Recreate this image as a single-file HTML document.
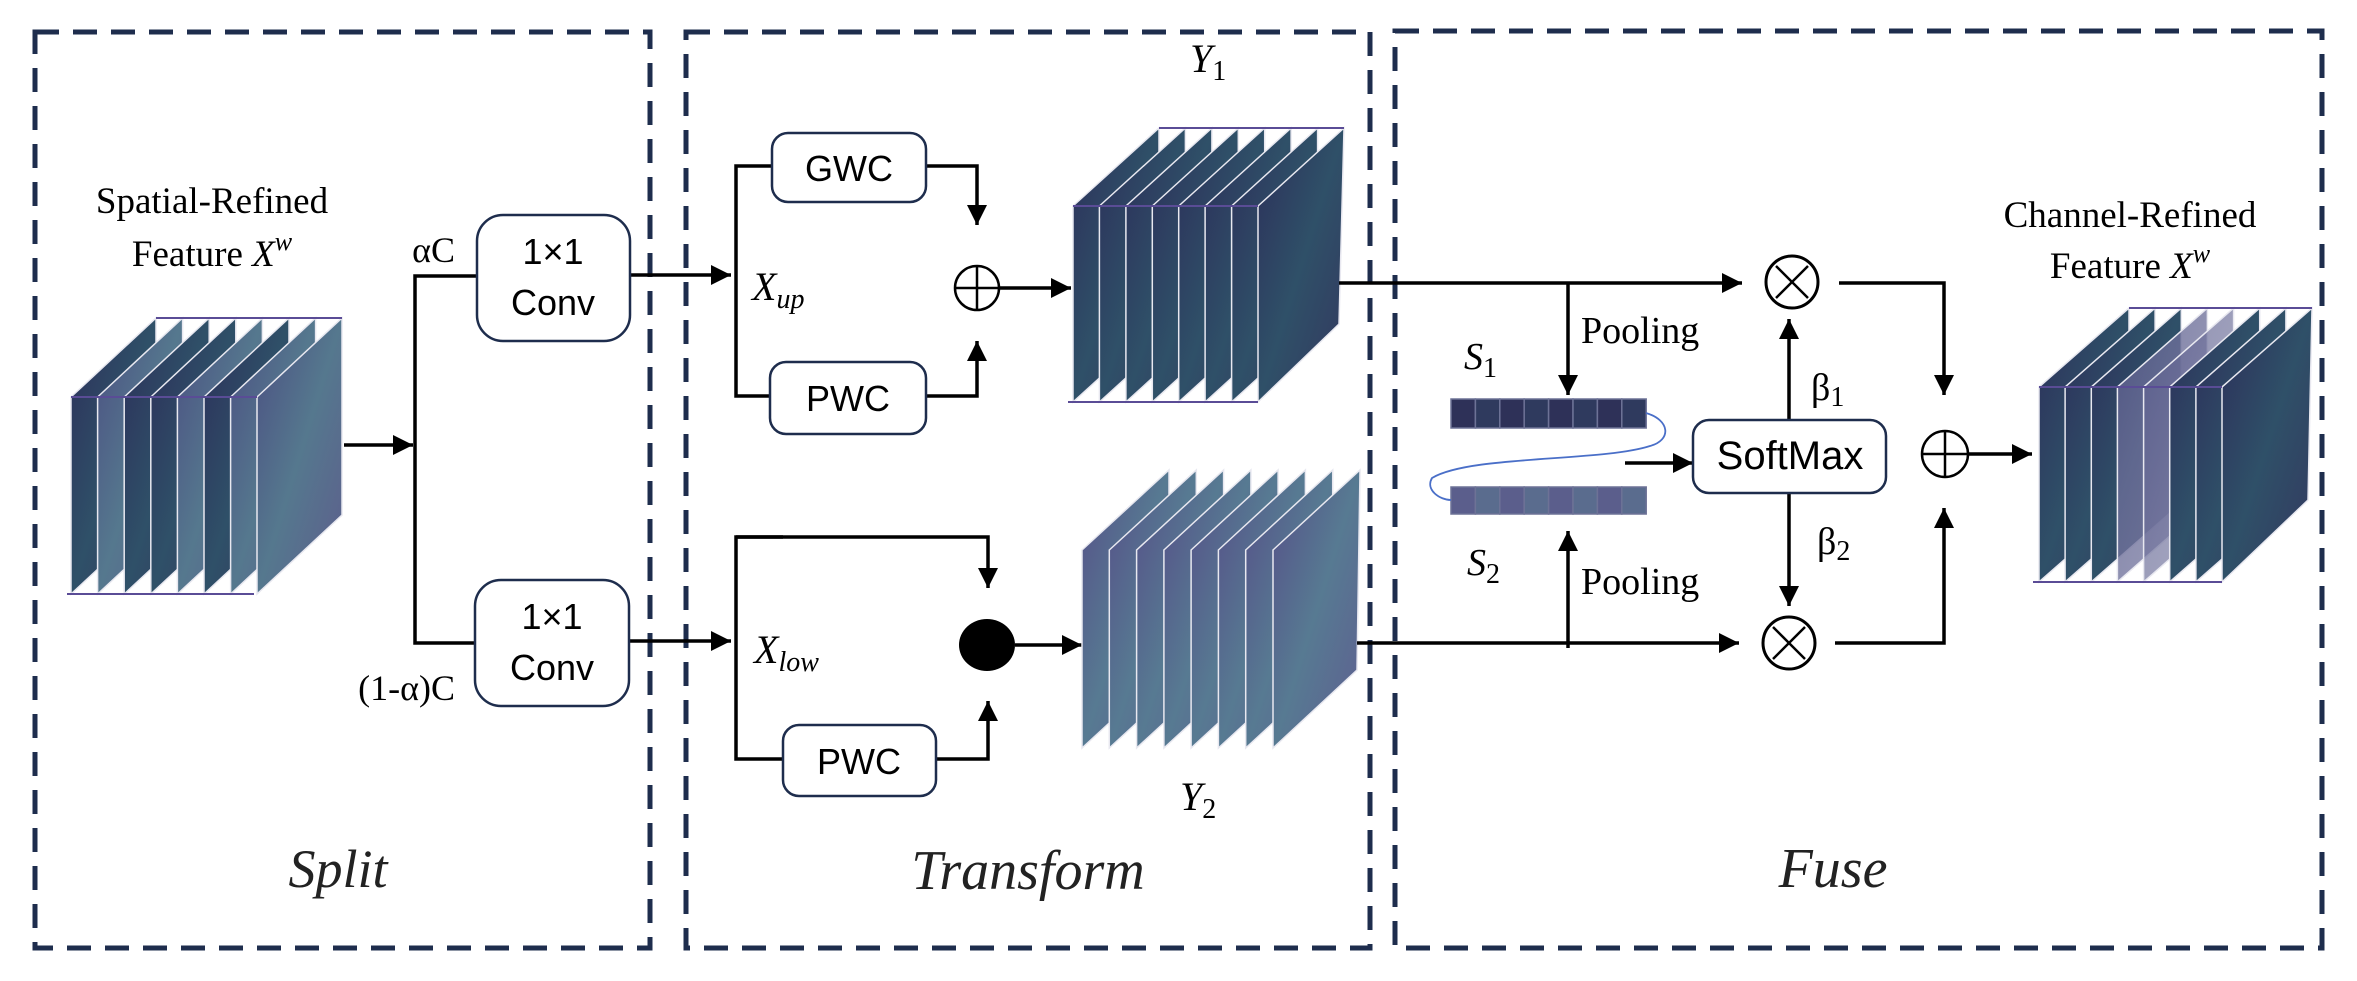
<!DOCTYPE html>
<html><head><meta charset="utf-8"><style>
html,body{margin:0;padding:0;background:#fff;}
svg{display:block;}
.serif{font-family:"Liberation Serif",serif;}
.sans{font-family:"Liberation Sans",sans-serif;}
</style></head><body>
<svg width="2357" height="981" viewBox="0 0 2357 981" xmlns="http://www.w3.org/2000/svg">
<defs>
<marker id="ah" viewBox="0 0 10 10" refX="10" refY="5" markerWidth="22" markerHeight="20" markerUnits="userSpaceOnUse" orient="auto">
<path d="M0,0 L10,5 L0,10 z" fill="#000"/></marker>
<linearGradient id="gd" x1="0" y1="0" x2="1" y2="1">
<stop offset="0" stop-color="#2c2f5a"/><stop offset="0.5" stop-color="#2f5068"/><stop offset="1" stop-color="#33385f"/></linearGradient>
<linearGradient id="gp" x1="0" y1="0" x2="1" y2="1">
<stop offset="0" stop-color="#4b4f82"/><stop offset="0.5" stop-color="#55788e"/><stop offset="1" stop-color="#5d5d8c"/></linearGradient>
<linearGradient id="gy2" x1="0" y1="0" x2="1" y2="1">
<stop offset="0" stop-color="#554f88"/><stop offset="0.5" stop-color="#577a92"/><stop offset="1" stop-color="#5e5e90"/></linearGradient>
<linearGradient id="gl" x1="0" y1="0" x2="1" y2="1">
<stop offset="0" stop-color="#5a5c8c"/><stop offset="1" stop-color="#8a8cae"/></linearGradient>
</defs>

<!-- panels -->
<g fill="none" stroke="#1e2d4d" stroke-width="5" stroke-dasharray="24,14">
<rect x="35" y="32" width="615" height="916"/>
<rect x="686" y="32" width="684" height="916"/>
<rect x="1395" y="31" width="927" height="917"/>
</g>

<!-- left cube -->
<g stroke="#e8e8f0" stroke-width="1.5">
<polygon points="71,397 156,318 156,515 71,594" fill="url(#gd)"/>
<polygon points="97.6,397 182.6,318 182.6,515 97.6,594" fill="url(#gp)"/>
<polygon points="124.2,397 209.2,318 209.2,515 124.2,594" fill="url(#gd)"/>
<polygon points="150.8,397 235.8,318 235.8,515 150.8,594" fill="url(#gd)"/>
<polygon points="177.4,397 262.4,318 262.4,515 177.4,594" fill="url(#gp)"/>
<polygon points="204,397 289,318 289,515 204,594" fill="url(#gd)"/>
<polygon points="230.6,397 315.6,318 315.6,515 230.6,594" fill="url(#gp)"/>
<polygon points="257,397 342,318 342,515 257,594" fill="url(#gp)"/>
</g>
<g stroke="#5a4c96" stroke-width="2"><line x1="71" y1="397" x2="257" y2="397"/><line x1="67" y1="594" x2="254" y2="594"/><line x1="156" y1="318" x2="342" y2="318"/></g>

<g class="serif" font-size="37" text-anchor="middle" fill="#000">
<text x="212" y="213">Spatial-Refined</text>
<text x="212" y="266">Feature <tspan font-style="italic">X</tspan><tspan font-style="italic" font-size="26" dy="-16">w</tspan></text>
</g>

<!-- split lines -->
<g stroke="#000" stroke-width="3.5" fill="none">
<line x1="344" y1="445" x2="413" y2="445" marker-end="url(#ah)"/>
<polyline points="477,276 415,276 415,643 475,643"/>
<line x1="630" y1="275" x2="731" y2="275" marker-end="url(#ah)"/>
<line x1="629" y1="641" x2="731" y2="641" marker-end="url(#ah)"/>
</g>
<g fill="#fff" stroke="#1e2d4d" stroke-width="2.5">
<rect x="477" y="215" width="153" height="126" rx="26"/>
<rect x="475" y="580" width="154" height="126" rx="26"/>
</g>
<g class="sans" font-size="36" text-anchor="middle">
<text x="553" y="264">1×1</text><text x="553" y="315">Conv</text>
<text x="552" y="629">1×1</text><text x="552" y="680">Conv</text>
</g>
<g class="serif" font-size="36" text-anchor="end">
<text x="455" y="262">αC</text>
<text x="455" y="700">(1-α)C</text>
</g>
<text class="serif" x="338" y="887" font-size="54" font-style="italic" text-anchor="middle" fill="#222">Split</text>

<!-- transform -->
<g stroke="#000" stroke-width="3.5" fill="none">
<polyline points="772,166 736,166 736,396 770,396"/>
<polyline points="926,166 977,166 977,225" marker-end="url(#ah)"/>
<polyline points="926,396 977,396 977,341" marker-end="url(#ah)"/>
<line x1="1000" y1="288" x2="1071" y2="288" marker-end="url(#ah)"/>
<polyline points="736,537 988,537 988,588" marker-end="url(#ah)"/>
<polyline points="783,537 736,537 736,759 783,759"/>
<polyline points="936,759 988,759 988,701" marker-end="url(#ah)"/>
<line x1="1015" y1="645" x2="1082" y2="645" marker-end="url(#ah)"/>
</g>
<g fill="#fff" stroke="#1e2d4d" stroke-width="2.5">
<rect x="772" y="133" width="154" height="69" rx="16"/>
<rect x="770" y="362" width="156" height="72" rx="16"/>
<rect x="783" y="725" width="153" height="71" rx="16"/>
</g>
<g class="sans" font-size="36" text-anchor="middle">
<text x="849" y="181">GWC</text><text x="848" y="411">PWC</text><text x="859" y="774">PWC</text>
</g>
<circle cx="977" cy="288" r="22" fill="#fff" stroke="#000" stroke-width="2.5"/>
<line x1="955" y1="288" x2="999" y2="288" stroke="#000" stroke-width="2.5"/>
<line x1="977" y1="266" x2="977" y2="310" stroke="#000" stroke-width="2.5"/>
<ellipse cx="987" cy="645" rx="28" ry="26" fill="#000"/>
<g class="serif" font-style="italic" font-size="40">
<text x="752" y="300">X<tspan font-size="28" dy="8">up</tspan></text>
<text x="754" y="663">X<tspan font-size="28" dy="8">low</tspan></text>
<text x="1190" y="72">Y<tspan font-size="28" font-style="normal" dy="8">1</tspan></text>
<text x="1180" y="810">Y<tspan font-size="28" font-style="normal" dy="8">2</tspan></text>
</g>
<text class="serif" x="1028" y="889" font-size="56" font-style="italic" text-anchor="middle" fill="#222">Transform</text>

<!-- Y1 cube -->
<g stroke="#e8e8f0" stroke-width="1.5" fill="url(#gd)">
<polygon points="1073,206 1159,128 1159,324 1073,402"/>
<polygon points="1099.4,206 1185.4,128 1185.4,324 1099.4,402"/>
<polygon points="1125.9,206 1211.9,128 1211.9,324 1125.9,402"/>
<polygon points="1152.3,206 1238.3,128 1238.3,324 1152.3,402"/>
<polygon points="1178.7,206 1264.7,128 1264.7,324 1178.7,402"/>
<polygon points="1205.1,206 1291.1,128 1291.1,324 1205.1,402"/>
<polygon points="1231.6,206 1317.6,128 1317.6,324 1231.6,402"/>
<polygon points="1258,206 1344,128 1339,324 1258,402"/>
</g>
<g stroke="#5a4c96" stroke-width="2"><line x1="1073" y1="206" x2="1258" y2="206"/><line x1="1068" y1="402" x2="1258" y2="402"/><line x1="1159" y1="128" x2="1344" y2="128"/></g>

<!-- Y2 cube -->
<g stroke="#e8e8f0" stroke-width="1.5" fill="url(#gy2)">
<polygon points="1082,550 1169,470 1169,668 1082,748"/>
<polygon points="1109.3,550 1196.3,470 1196.3,668 1109.3,748"/>
<polygon points="1136.6,550 1223.6,470 1223.6,668 1136.6,748"/>
<polygon points="1163.9,550 1250.9,470 1250.9,668 1163.9,748"/>
<polygon points="1191.1,550 1278.1,470 1278.1,668 1191.1,748"/>
<polygon points="1218.4,550 1305.4,470 1305.4,668 1218.4,748"/>
<polygon points="1245.7,550 1332.7,470 1332.7,668 1245.7,748"/>
<polygon points="1273,550 1360,470 1357,670 1273,748"/>
</g>

<!-- fuse lines -->
<g stroke="#000" stroke-width="3.5" fill="none">
<line x1="1339" y1="283" x2="1742" y2="283" marker-end="url(#ah)"/>
<line x1="1568" y1="283" x2="1568" y2="395" marker-end="url(#ah)"/>
<line x1="1357" y1="643" x2="1739" y2="643" marker-end="url(#ah)"/>
<line x1="1568" y1="648" x2="1568" y2="531" marker-end="url(#ah)"/>
<line x1="1625" y1="463" x2="1693" y2="463" marker-end="url(#ah)"/>
<line x1="1789" y1="420" x2="1789" y2="319" marker-end="url(#ah)"/>
<line x1="1789" y1="493" x2="1789" y2="606" marker-end="url(#ah)"/>
<polyline points="1839,283 1944,283 1944,395" marker-end="url(#ah)"/>
<polyline points="1835,643 1944,643 1944,508" marker-end="url(#ah)"/>
<line x1="1968" y1="454" x2="2032" y2="454" marker-end="url(#ah)"/>
</g>
<!-- S bars -->
<g stroke="#6d7296" stroke-width="1.5">
<rect x="1451" y="399" width="24.4" height="29" fill="#2e3158"/><rect x="1475.4" y="399" width="24.4" height="29" fill="#2f3a5e"/>
<rect x="1499.8" y="399" width="24.4" height="29" fill="#2e3158"/><rect x="1524.2" y="399" width="24.4" height="29" fill="#2f3a5e"/>
<rect x="1548.6" y="399" width="24.4" height="29" fill="#2e3158"/><rect x="1573" y="399" width="24.4" height="29" fill="#2f3a5e"/>
<rect x="1597.4" y="399" width="24.4" height="29" fill="#2e3158"/><rect x="1621.8" y="399" width="24.4" height="29" fill="#2f3a5e"/>
<rect x="1451" y="487" width="24.4" height="27" fill="#5b5e8c"/><rect x="1475.4" y="487" width="24.4" height="27" fill="#5a6c8e"/>
<rect x="1499.8" y="487" width="24.4" height="27" fill="#5b5e8c"/><rect x="1524.2" y="487" width="24.4" height="27" fill="#5a6c8e"/>
<rect x="1548.6" y="487" width="24.4" height="27" fill="#5b5e8c"/><rect x="1573" y="487" width="24.4" height="27" fill="#5a6c8e"/>
<rect x="1597.4" y="487" width="24.4" height="27" fill="#5b5e8c"/><rect x="1621.8" y="487" width="24.4" height="27" fill="#5a6c8e"/>
</g>
<path d="M1646,413 C1670,420 1672,440 1650,446 C1600,462 1470,455 1432,478 C1425,490 1440,500 1451,500" fill="none" stroke="#4a6fc8" stroke-width="1.8"/>
<rect x="1693" y="420" width="193" height="73" rx="16" fill="#fff" stroke="#1e2d4d" stroke-width="2.5"/>
<text class="sans" x="1790" y="469" font-size="40" text-anchor="middle">SoftMax</text>
<g fill="#fff" stroke="#000" stroke-width="3">
<circle cx="1792" cy="282" r="26"/><circle cx="1789" cy="643" r="26"/>
</g>
<g stroke="#000" stroke-width="2.5">
<line x1="1776" y1="266" x2="1808" y2="298"/><line x1="1808" y1="266" x2="1776" y2="298"/>
<line x1="1773" y1="627" x2="1805" y2="659"/><line x1="1805" y1="627" x2="1773" y2="659"/>
</g>
<circle cx="1945" cy="454" r="23" fill="#fff" stroke="#000" stroke-width="2.5"/>
<line x1="1922" y1="454" x2="1968" y2="454" stroke="#000" stroke-width="2.5"/>
<line x1="1945" y1="431" x2="1945" y2="477" stroke="#000" stroke-width="2.5"/>
<g class="serif" font-size="38">
<text x="1581" y="343">Pooling</text><text x="1581" y="594">Pooling</text>
<text x="1811" y="400">β<tspan font-size="28" dy="6">1</tspan></text>
<text x="1817" y="554">β<tspan font-size="28" dy="6">2</tspan></text>
<text x="1464" y="369" font-style="italic">S<tspan font-size="28" font-style="normal" dy="8">1</tspan></text>
<text x="1467" y="575" font-style="italic">S<tspan font-size="28" font-style="normal" dy="8">2</tspan></text>
</g>
<g class="serif" font-size="37" text-anchor="middle">
<text x="2130" y="227">Channel-Refined</text>
<text x="2130" y="278">Feature <tspan font-style="italic">X</tspan><tspan font-style="italic" font-size="26" dy="-16">w</tspan></text>
</g>

<!-- right cube -->
<g stroke="#e8e8f0" stroke-width="1.5">
<polygon points="2039,387 2129,308 2129,503 2039,582" fill="url(#gd)"/>
<polygon points="2065.1,387 2155.1,308 2155.1,503 2065.1,582" fill="url(#gd)"/>
<polygon points="2091.3,387 2181.3,308 2181.3,503 2091.3,582" fill="url(#gd)"/>
<polygon points="2117.4,387 2207.4,308 2207.4,503 2117.4,582" fill="url(#gl)" fill-opacity="0.8"/>
<polygon points="2143.6,387 2233.6,308 2233.6,503 2143.6,582" fill="url(#gl)" fill-opacity="0.7"/>
<polygon points="2169.7,387 2259.7,308 2259.7,503 2169.7,582" fill="url(#gd)"/>
<polygon points="2195.9,387 2285.9,308 2285.9,503 2195.9,582" fill="url(#gd)"/>
<polygon points="2222,387 2312,308 2308,500 2222,582" fill="url(#gd)"/>
</g>
<g stroke="#5a4c96" stroke-width="2"><line x1="2039" y1="387" x2="2222" y2="387"/><line x1="2033" y1="582" x2="2222" y2="582"/><line x1="2129" y1="308" x2="2312" y2="308"/></g>
<text class="serif" x="1833" y="887" font-size="56" font-style="italic" text-anchor="middle" fill="#222">Fuse</text>
</svg>
</body></html>
